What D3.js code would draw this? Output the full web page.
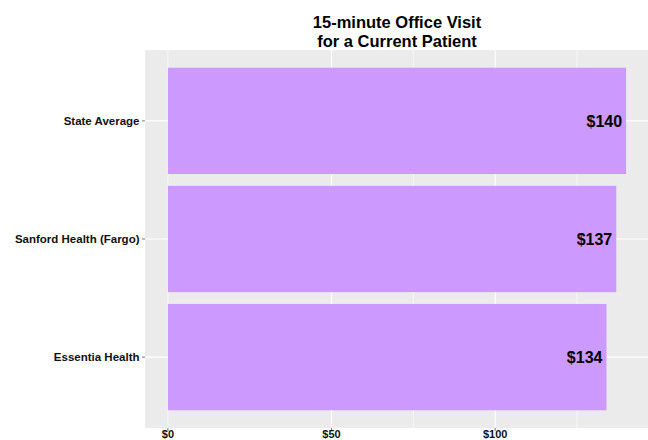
<!DOCTYPE html>
<html>
<head>
<meta charset="utf-8">
<script src="https://cdn.jsdelivr.net/npm/d3@7"></script>
<style>
html,body{margin:0;padding:0;background:#fff;}
svg{display:block;font-family:"Liberation Sans",Arial,sans-serif;}
</style>
</head>
<body>
<svg id="chart" width="648" height="440"></svg>
<script>
const categories = ["State Average", "Sanford Health (Fargo)", "Essentia Health"];
const values = [140, 137, 134];
const valueLabels = ["$140", "$137", "$134"];
const xTicks = [0, 50, 100];
const xTickLabels = ["$0", "$50", "$100"];
const xMinorTicks = [75, 125];
const titleLines = ["15-minute Office Visit", "for a Current Patient"];

const svg = d3.select("#chart");
const panel = {left: 145, right: 649, top: 50, bottom: 428};

const x = d3.scaleLinear().domain([-7, 147]).range([panel.left, panel.right]);
const y = d3.scaleBand().domain(categories)
  .range([panel.top, panel.bottom]).paddingInner(0.1).paddingOuter(0.15);

svg.append("rect").attr("x", panel.left).attr("y", panel.top)
  .attr("width", panel.right - panel.left).attr("height", panel.bottom - panel.top)
  .attr("fill", "#EBEBEB");

const bw = y.bandwidth();

// minor grid
svg.selectAll(".minor").data(xMinorTicks).enter().append("line")
  .attr("x1", d => x(d)).attr("x2", d => x(d))
  .attr("y1", panel.top).attr("y2", panel.bottom)
  .attr("stroke", "#fff").attr("stroke-width", 0.6);
// major grid
svg.selectAll(".major").data(xTicks).enter().append("line")
  .attr("x1", d => x(d)).attr("x2", d => x(d))
  .attr("y1", panel.top).attr("y2", panel.bottom)
  .attr("stroke", "#fff").attr("stroke-width", d => d === 0 ? 0.6 : 1.1);
svg.selectAll(".hgrid").data(categories).enter().append("line")
  .attr("x1", panel.left).attr("x2", panel.right)
  .attr("y1", d => y(d) + bw / 2).attr("y2", d => y(d) + bw / 2)
  .attr("stroke", "#fff").attr("stroke-width", 1.1);

// bars
svg.selectAll(".bar").data(categories).enter().append("rect")
  .attr("x", x(0)).attr("y", d => y(d))
  .attr("width", (d, i) => x(values[i]) - x(0)).attr("height", bw)
  .attr("fill", "#CC99FF");

// value labels
svg.selectAll(".val").data(categories).enter().append("text")
  .attr("x", (d, i) => x(values[i]) - 4).attr("y", d => y(d) + bw / 2)
  .attr("dy", "0.36em").attr("text-anchor", "end")
  .attr("font-size", 16).attr("font-weight", "bold").attr("fill", "#000")
  .text((d, i) => valueLabels[i]);

// y axis
svg.selectAll(".ytick").data(categories).enter().append("line")
  .attr("x1", panel.left - 3).attr("x2", panel.left)
  .attr("y1", d => y(d) + bw / 2).attr("y2", d => y(d) + bw / 2)
  .attr("stroke", "#555").attr("stroke-width", 0.8);
svg.selectAll(".ylab").data(categories).enter().append("text")
  .attr("x", panel.left - 5.5).attr("y", d => y(d) + bw / 2)
  .attr("dy", "0.35em").attr("text-anchor", "end")
  .attr("font-size", 11.5).attr("font-weight", "bold").attr("fill", "#111")
  .text(d => d);

// x axis
svg.selectAll(".xtick").data(xTicks).enter().append("line")
  .attr("x1", d => x(d)).attr("x2", d => x(d))
  .attr("y1", panel.bottom).attr("y2", panel.bottom + 3)
  .attr("stroke", "#555").attr("stroke-width", 0.8);
svg.selectAll(".xlab").data(xTicks).enter().append("text")
  .attr("x", d => x(d)).attr("y", 438)
  .attr("text-anchor", "middle")
  .attr("font-size", 11).attr("font-weight", "bold").attr("fill", "#111")
  .text((d, i) => xTickLabels[i]);

// title
const cx = (panel.left + panel.right) / 2;
svg.selectAll(".title").data(titleLines).enter().append("text")
  .attr("x", cx).attr("y", (d, i) => 28 + i * 18.5)
  .attr("text-anchor", "middle")
  .attr("font-size", 16.5).attr("font-weight", "bold").attr("fill", "#000")
  .text(d => d);
</script>
</body>
</html>
